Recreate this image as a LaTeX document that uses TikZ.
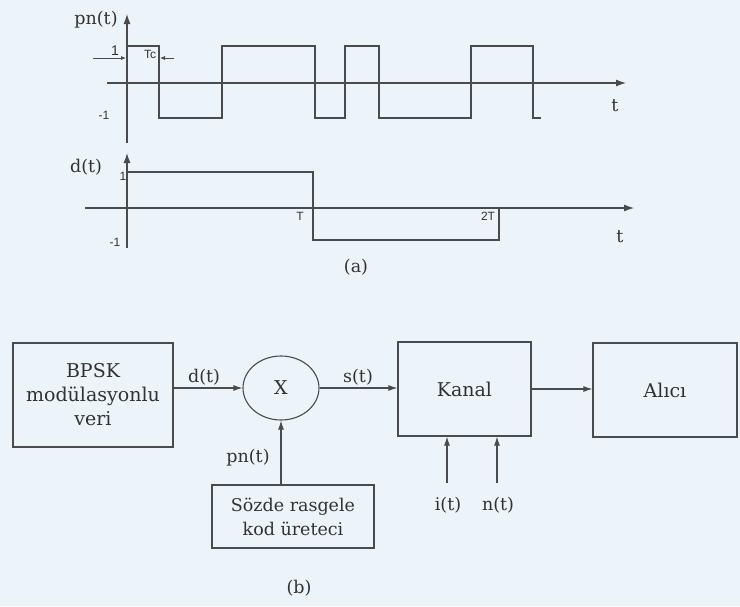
\documentclass[tikz,border=0pt]{standalone}
\usepackage{fontspec}
\setmainfont{DejaVu Serif}
\newfontfamily\smallsans{Liberation Sans}
\usetikzlibrary{arrows.meta,shapes.geometric}
\definecolor{bg}{RGB}{236,243,249}
\definecolor{ink}{RGB}{75,75,75}
\definecolor{txt}{RGB}{50,50,50}
\begin{document}
\begin{tikzpicture}[x=1pt,y=-1pt,
  lbl/.style={text=txt,font=\fontsize{17.5}{20}\selectfont,inner sep=0},
  smalllbl/.style={text=txt,font=\smallsans\fontsize{12}{14}\selectfont,inner sep=0},
  blk/.style={draw=ink,line width=1.1pt,text=txt,font=\fontsize{19}{24}\selectfont,align=center,inner sep=0},
  wave/.style={draw=ink,line width=1.1pt},
  axisarr/.style={draw=ink,line width=1.1pt,-{Latex[length=10pt,width=7pt]}},
  arr/.style={draw=ink,line width=1.1pt,-{Latex[length=9pt,width=6pt]}},
  tinyarr/.style={draw=ink,line width=0.8pt,-{Latex[length=5pt,width=4pt]}}]
\fill[bg] (0,0) rectangle (740,606);
\useasboundingbox (0,0) rectangle (740,606);

% ---------- pn(t) ----------
\draw[axisarr] (127,143) -- (127,14);
\draw[axisarr] (107,83) -- (626,83);
\draw[wave] (127,46) -- (159,46) -- (159,118) -- (222,118) -- (222,46) -- (315,46)
  -- (315,118) -- (345,118) -- (345,46) -- (379,46) -- (379,118) -- (471,118)
  -- (471,46) -- (533,46) -- (533,118) -- (541,118);
\node[lbl] (pnlab) at (96,20) {pn(t)};
\node[lbl] (t1) at (615,106) {t};
\node[smalllbl,font=\smallsans\fontsize{14}{16}\selectfont] (one1) at (115,51) {1};
\node[smalllbl] (mone1) at (104,115) {-1};
\node[smalllbl] (tc) at (150,54) {Tc};
\draw[tinyarr] (93,58) -- (126,58);
\draw[tinyarr] (174,58) -- (160,58);

% ---------- d(t) ----------
\draw[axisarr] (127,248) -- (127,153);
\draw[axisarr] (85,208) -- (634,208);
\draw[wave] (127,172) -- (313,172) -- (313,240) -- (499,240) -- (499,208);
\node[lbl] (dlab) at (86,167) {d(t)};
\node[lbl] (t2) at (620,237) {t};
\node[smalllbl] (one2) at (123,176) {1};
\node[smalllbl] (mone2) at (115,242) {-1};
\node[smalllbl] (tT) at (300,216) {T};
\node[smalllbl] (t2T) at (488,216) {2T};
\node[lbl] (alab) at (356,267) {(a)};

% ---------- block diagram ----------
\node[blk,minimum width=160,minimum height=104] (bpsk) at (93,395)
  {BPSK\\modülasyonlu\\veri};
\node[blk,ellipse,minimum width=76,minimum height=64] (mult) at (281,388) {X};
\node[blk,minimum width=133,minimum height=94] (kanal) at (464.5,389) {Kanal};
\node[blk,minimum width=144,minimum height=94] (alici) at (665,390) {Alıcı};
\node[blk,minimum width=162,minimum height=63,font=\fontsize{17.5}{24}\selectfont] (sozde) at (293,516.5)
  {Sözde rasgele\\kod üreteci};

\draw[arr] (bpsk.east |- mult.west) -- (mult.west);
\draw[arr] (mult.east) -- (mult.east -| kanal.west);
\draw[arr] (kanal.east) -- (kanal.east -| alici.west);
\draw[arr] (sozde.north -| mult.south) -- (mult.south);
\coordinate (ibot) at (447,483);
\coordinate (nbot) at (497,483);
\draw[arr] (ibot) -- (ibot |- kanal.south);
\draw[arr] (nbot) -- (nbot |- kanal.south);

\node[lbl] (dt) at (204,377) {d(t)};
\node[lbl] (st) at (358,377) {s(t)};
\node[lbl] (pnt) at (248,458) {pn(t)};
\node[lbl] (it) at (448,505) {i(t)};
\node[lbl] (nt) at (498,505) {n(t)};
\node[lbl] (blab) at (299,588) {(b)};
\end{tikzpicture}
\end{document}
